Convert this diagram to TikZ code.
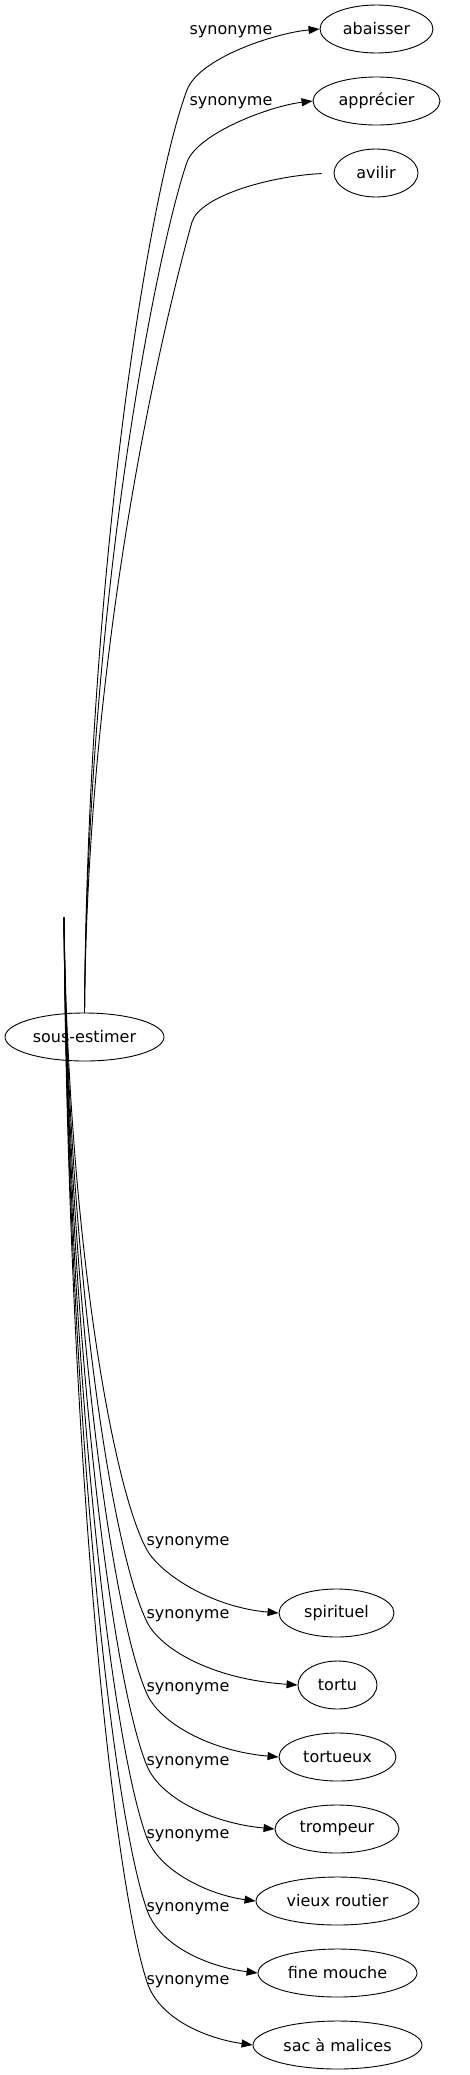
\documentclass[tikz,border=0pt]{standalone}
\usepackage{fontspec}
\setmainfont{DejaVu Sans}
\usetikzlibrary{shapes.geometric,arrows.meta}
\newcommand{\wordsize}{\fontsize{16pt}{19pt}\selectfont}
\tikzstyle{node_word} = [ellipse, draw, line width=0.9pt, inner sep=0pt, minimum height=48pt, font=\wordsize]
\tikzstyle{node_label} = [inner sep=0pt, font=\wordsize]
\tikzstyle{edge_syn} = [line width=0.9pt, -{Triangle[length=11pt,width=8pt]}]
\tikzstyle{edge_cut} = [line width=0.9pt, shorten >=12pt]

\begin{document}
\begin{tikzpicture}[x=1pt, y=-1pt]
		\useasboundingbox (0,0) rectangle (469,2075);
		\node (SE) at (84.5,1037) [node_word, minimum width=159pt] {sous-estimer};
		\coordinate (SEtail) at (64,917);
		
		\node (AB) at (376.5,29) [node_word, minimum width=113pt] {abaisser};
		\node (AP) at (376.5,101) [node_word, minimum width=127pt] {apprécier};
		\node (AV) at (376,173) [node_word, minimum width=84pt] {avilir};
		\node (SP) at (336.5,1613) [node_word, minimum width=115pt] {spirituel};
		\node (TO) at (337.5,1685) [node_word, minimum width=79pt] {tortu};
		\node (TX) at (337.5,1757) [node_word, minimum width=117pt] {tortueux};
		\node (TR) at (337,1829) [node_word, minimum width=124pt] {trompeur};
		\node (VR) at (337.5,1901) [node_word, minimum width=163pt] {vieux routier};
		\node (FM) at (337.5,1973) [node_word, minimum width=159pt] {fine mouche};
		\node (SM) at (337.5,2045) [node_word, minimum width=169pt] {sac à malices};
		
		\node (LAB) at (231,32) [node_label] {synonyme};
		\node (LAP) at (231,103) [node_label] {synonyme};
		\node (LSP) at (188,1543) [node_label] {synonyme};
		\node (LTO) at (188,1616) [node_label] {synonyme};
		\node (LTX) at (188,1689) [node_label] {synonyme};
		\node (LTR) at (188,1763) [node_label] {synonyme};
		\node (LVR) at (188,1836) [node_label] {synonyme};
		\node (LFM) at (188,1909) [node_label] {synonyme};
		\node (LSM) at (188,1982) [node_label] {synonyme};
		
		\draw[edge_syn] (SE.north) .. controls (88,551) and (152,182) .. (187,90) .. controls (199,58) and (275,33) .. (AB.west);
		\draw[edge_syn] (SE.north) .. controls (88,587) and (158,247) .. (187,162) .. controls (198,133) and (270,106) .. (AP.west);
		\draw[edge_cut] (SE.north) .. controls (88,622) and (170,300) .. (192,222) .. controls (200,196) and (270,176) .. (AV.west);
		
		\draw[edge_syn] (SEtail) .. controls (68,1233) and (112,1487) .. (147,1550) .. controls (160,1573) and (210,1607) .. (SP.west);
		\draw[edge_syn] (SEtail) .. controls (68,1269) and (112,1551) .. (147,1622) .. controls (160,1648) and (210,1679) .. (TO.west);
		\draw[edge_syn] (SEtail) .. controls (68,1305) and (112,1616) .. (147,1694) .. controls (160,1723) and (210,1751) .. (TX.west);
		\draw[edge_syn] (SEtail) .. controls (68,1341) and (112,1681) .. (147,1766) .. controls (160,1797) and (210,1823) .. (TR.west);
		\draw[edge_syn] (SEtail) .. controls (68,1377) and (112,1746) .. (147,1838) .. controls (160,1872) and (210,1895) .. (VR.west);
		\draw[edge_syn] (SEtail) .. controls (68,1413) and (112,1811) .. (147,1910) .. controls (160,1947) and (210,1967) .. (FM.west);
		\draw[edge_syn] (SEtail) .. controls (68,1449) and (112,1875) .. (147,1982) .. controls (160,2021) and (210,2039) .. (SM.west);
\end{tikzpicture}
\end{document}
